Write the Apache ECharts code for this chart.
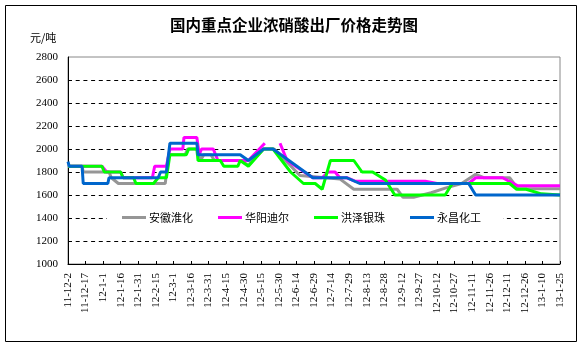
<!DOCTYPE html>
<html>
<head>
<meta charset="utf-8">
<script src="https://cdn.jsdelivr.net/npm/echarts@6/dist/echarts.min.js"></script>
<style>html,body{margin:0;padding:0;background:#fff}#c{width:583px;height:348px}</style>
</head>
<body>
<div id="c"></div>
<script>
var titleText = '国内重点企业浓硝酸出厂价格走势图';
var unitText = '元/吨';
var startDate = '2011-12-02';
var endDate = '2013-01-25';
var yMin = 1000, yMax = 2800, yStep = 200;
var tickDays = 15;
var seriesNames = ['安徽淮化', '华阳迪尔', '洪泽银珠', '永昌化工'];
var seriesColors = ['#969696', '#FF00FF', '#00FF00', '#0066CC'];

var anhui = [['2011-12-02',1850],['2011-12-14',1850],['2011-12-15',1800],['2012-01-06',1800],['2012-01-08',1750],['2012-01-14',1700],['2012-02-23',1700],['2012-02-26',1950],['2012-03-11',1950],['2012-03-13',2000],['2012-03-21',2000],['2012-03-24',1900],['2012-03-27',1950],['2012-04-02',1950],['2012-04-05',1900],['2012-04-27',1900],['2012-05-04',1860],['2012-05-17',2000],['2012-05-26',2000],['2012-06-17',1770],['2012-07-21',1740],['2012-08-02',1650],['2012-09-08',1650],['2012-09-13',1580],['2012-09-22',1580],['2012-10-07',1620],['2012-10-19',1660],['2012-11-02',1700],['2012-11-14',1780],['2012-11-21',1750],['2012-12-13',1750],['2012-12-20',1655],['2013-01-25',1655]];
var huayang = [['2011-12-02',1850],['2011-12-31',1850],['2012-01-04',1800],['2012-01-16',1800],['2012-01-18',1750],['2012-02-12',1750],['2012-02-14',1850],['2012-02-24',1850],['2012-02-27',2000],['2012-03-09',2000],['2012-03-10',2100],['2012-03-21',2100],['2012-03-23',1950],['2012-03-25',2000],['2012-04-04',2000],['2012-04-08',1900],['2012-05-04',1900],['2012-05-18',2050],['2012-05-24',null],['2012-05-31',2050],['2012-06-06',1900],['2012-06-28',1750],['2012-07-06',1750],['2012-07-11',1800],['2012-07-17',1800],['2012-07-21',1750],['2012-07-27',1750],['2012-08-03',1720],['2012-10-02',1720],['2012-10-12',1700],['2012-11-08',1700],['2012-11-14',1750],['2012-12-07',1750],['2012-12-20',1680],['2013-01-25',1680]];
var hongze = [['2011-12-02',1850],['2011-12-31',1850],['2012-01-02',1800],['2012-01-16',1800],['2012-01-18',1750],['2012-01-27',1750],['2012-01-29',1700],['2012-02-13',1700],['2012-02-17',1750],['2012-02-24',1750],['2012-02-27',1950],['2012-03-12',1950],['2012-03-14',2000],['2012-03-21',2000],['2012-03-22',1900],['2012-04-10',1900],['2012-04-13',1850],['2012-04-25',1850],['2012-04-27',1900],['2012-05-04',1850],['2012-05-17',2000],['2012-05-25',2000],['2012-06-09',1800],['2012-06-20',1700],['2012-06-30',1700],['2012-07-06',1650],['2012-07-13',1900],['2012-08-02',1900],['2012-08-09',1800],['2012-08-18',1800],['2012-08-29',1730],['2012-09-06',1600],['2012-10-19',1600],['2012-10-25',1700],['2012-12-13',1700],['2012-12-19',1650],['2012-12-27',1650],['2013-01-09',1610],['2013-01-25',1600]];
var yongchang = [['2011-12-02',1890],['2011-12-03',1850],['2011-12-14',1850],['2011-12-15',1700],['2012-01-05',1700],['2012-01-06',1750],['2012-02-17',1750],['2012-02-19',1800],['2012-02-24',1800],['2012-02-27',2050],['2012-03-21',2050],['2012-03-22',1950],['2012-04-27',1950],['2012-05-04',1900],['2012-05-17',2000],['2012-05-25',2000],['2012-06-28',1750],['2012-07-27',1750],['2012-08-07',1700],['2012-11-08',1700],['2012-11-14',1600],['2013-01-25',1600]];

var DAY = 86400000;
function toUTC(s){var p=s.split('-');return Date.UTC(+p[0],+p[1]-1,+p[2]);}
var t0 = toUTC(startDate);
function dayIndex(s){return Math.round((toUTC(s)-t0)/DAY);}
function fmt(d){var dt=new Date(t0+d*DAY);return String(dt.getUTCFullYear()).slice(2)+'-'+(dt.getUTCMonth()+1)+'-'+dt.getUTCDate();}
function conv(arr){return arr.map(function(p){return [dayIndex(p[0]), p[1]===null?'-':p[1]];});}
var allData = [anhui, huayang, hongze, yongchang];

var chart = echarts.init(document.getElementById('c'), null, {renderer:'canvas'});
var numFont = '"Liberation Serif", "Noto Sans CJK SC", serif';
chart.setOption({
  animation:false,
  backgroundColor:'#fff',
  title:{text:titleText,left:289,textAlign:'center',top:12,textStyle:{fontSize:15.5,fontWeight:'bold',color:'#000',fontFamily:'"Noto Sans CJK SC", sans-serif'}},
  graphic:[
    {type:'rect',shape:{x:5.5,y:5.5,width:571,height:336},style:{fill:null,stroke:'#000',lineWidth:1},silent:true,z:-1},
    {type:'text',left:30,top:32,style:{text:unitText,fontSize:11,fill:'#000',fontFamily:'"Noto Sans CJK SC", sans-serif'}}
  ],
  legend:{
    data:seriesNames,left:107,top:208,icon:'rect',itemWidth:24,itemHeight:3,itemGap:25,
    backgroundColor:'#fff',padding:[4,22,4,15],
    textStyle:{fontSize:11,color:'#000',fontFamily:'"Noto Sans CJK SC", sans-serif',padding:[0,0,0,-2]}
  },
  grid:{left:68,right:23,top:57,bottom:84,show:true,borderColor:'#888',borderWidth:1},
  xAxis:{type:'value',min:0,max:dayIndex(endDate),interval:tickDays,
    axisLine:{lineStyle:{color:'#000',width:1}},
    axisTick:{inside:true,length:3,lineStyle:{color:'#000'}},
    splitLine:{show:false},
    axisLabel:{rotate:90,fontSize:11,color:'#000',margin:9,fontFamily:numFont,formatter:function(v){return fmt(v);}}
  },
  yAxis:{type:'value',min:yMin,max:yMax,interval:yStep,
    axisLine:{show:true,lineStyle:{color:'#000',width:1}},
    axisTick:{show:false},
    axisLabel:{fontSize:11,color:'#000',margin:10,fontFamily:numFont,formatter:function(v){return String(v);}},
    splitLine:{show:true,showMinLine:false,showMaxLine:false,lineStyle:{color:'#000',type:[4,3.7],width:1}}
  },
  series:seriesNames.map(function(n,i){
    return {name:n,type:'line',data:conv(allData[i]),symbol:'none',connectNulls:false,
      lineStyle:{width:3,color:seriesColors[i]},itemStyle:{color:seriesColors[i]}};
  })
});
</script>
</body>
</html>
